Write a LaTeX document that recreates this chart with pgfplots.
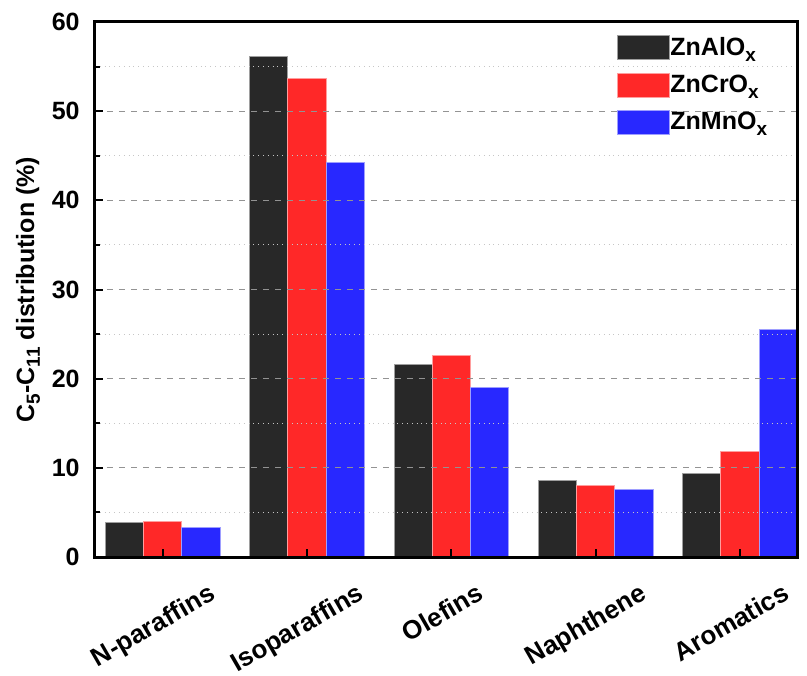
\documentclass[border=0pt]{standalone}
\usepackage{fontspec}
\setmainfont{Liberation Sans}
\usepackage{graphicx}
\usepackage{pgfplots}
\pgfplotsset{compat=1.18}

\definecolor{barblack}{HTML}{282828}
\definecolor{barred}{HTML}{FF2828}
\definecolor{barblue}{HTML}{2828FF}

\newcommand{\lblfont}{\bfseries\fontsize{12.5}{14}\selectfont}
\newcommand{\catfont}{\bfseries\fontsize{13}{15}\selectfont}
\newcommand{\cat}[1]{\rotatebox{30}{#1}}
% larger, lower subscripts
\newcommand{\sub}[1]{\raisebox{-0.45ex}{\fontsize{9.5}{11}\selectfont #1}}

\begin{document}
\begin{tikzpicture}
\begin{axis}[
  name=ax,
  scale only axis,
  width=351pt, height=267.5pt,
  xmin=-0.47, xmax=4.395,
  ymin=0, ymax=60,
  ybar=0pt, bar width=0.265,
  axis on top,
  xtick={0,1,2,3,4},
  xticklabels={\cat{N-paraffins},\cat{Isoparaffins},\cat{Olefins},\cat{Naphthene},\cat{Aromatics}},
  xticklabel style={anchor=north, inner sep=0pt, yshift=-12.5pt, xshift=-4.5pt, font=\catfont},
  ytick={0,10,...,60},
  minor y tick num=1,
  yticklabel style={inner sep=0pt, xshift=-7.5pt, font=\lblfont},
  /pgf/number format/assume math mode=true,
  tick align=inside,
  xtick pos=bottom, ytick pos=left,
  major tick length=4pt, minor tick length=2.5pt,
  major tick style={black, line width=1pt},
  minor tick style={black, line width=1pt},
  axis line style={line width=1.5pt},
  ymajorgrids, yminorgrids,
  major grid style={dashed, gray!85, line width=0.5pt},
  minor grid style={dotted, gray!45, line width=0.5pt},
  ylabel={C\sub{5}-C\sub{11} distribution (\%)},
  ylabel style={at={(axis description cs:-0.0954,0.5)}, anchor=center, font=\lblfont},
  legend style={at={(axis description cs:0.7436,0.988)}, anchor=north west,
    draw=none, fill=none, inner sep=0pt, font=\lblfont,
    nodes={inner sep=0pt, minimum height=18.75pt},
    /tikz/every even column/.append style={column sep=7.5pt}},
  legend cell align=left,
  legend image code/.code={\draw[#1, line width=0.5pt] (0pt,-6pt) rectangle (26pt,6pt);},
]
\addplot[fill=barblack, draw=barblack!45!white, line width=0.5pt]
  coordinates {(0,3.9) (1,56.1) (2,21.6) (3,8.6) (4,9.4)};
\addplot[fill=barred, draw=barred!45!white, line width=0.5pt]
  coordinates {(0,4.0) (1,53.7) (2,22.6) (3,8.05) (4,11.8)};
\addplot[fill=barblue, draw=barblue!45!white, line width=0.5pt]
  coordinates {(0,3.3) (1,44.2) (2,19.05) (3,7.6) (4,25.5)};
\legend{ZnAlO\sub{x}, ZnCrO\sub{x}, ZnMnO\sub{x}}
\end{axis}
\pgfresetboundingbox
\useasboundingbox ([xshift=-47.5pt,yshift=-59pt]ax.south west) rectangle ([xshift=5pt,yshift=11pt]ax.north east);
\end{tikzpicture}
\end{document}
